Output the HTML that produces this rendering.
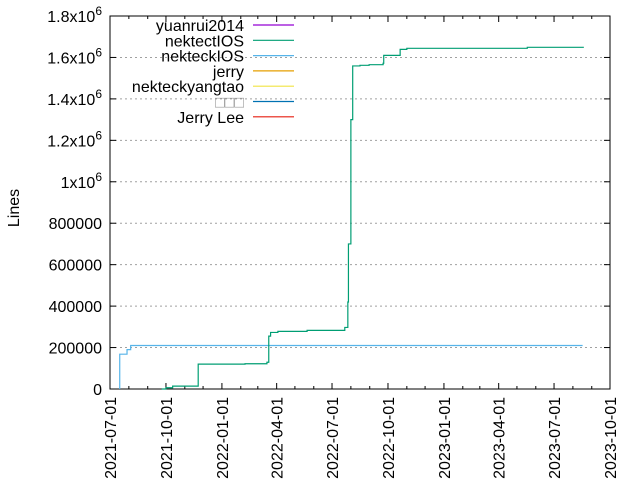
<!DOCTYPE html>
<html><head><meta charset="utf-8">
<style>
html,body{margin:0;padding:0;background:#fff;}
svg{display:block;font-family:"Liberation Sans","Noto Sans CJK SC",sans-serif;}
</style></head>
<body>
<svg id="chart" width="640" height="480" viewBox="0 0 640 480" xmlns="http://www.w3.org/2000/svg"></svg>
<script>
const yTicks = [0,200000,400000,600000,800000,1000000,1200000,1400000,1600000,1800000];
const yTickLabels = ["0","200000","400000","600000","800000","1x10^6","1.2x10^6","1.4x10^6","1.6x10^6","1.8x10^6"];
const xTickLabels = ["2021-07-01","2021-10-01","2022-01-01","2022-04-01","2022-07-01","2022-10-01","2023-01-01","2023-04-01","2023-07-01","2023-10-01"];
const seriesNames = ["yuanrui2014","nektectIOS","nekteckIOS","jerry","nekteckyangtao","\u25a1\u25a1\u25a1","Jerry Lee"];
const seriesColors = ["#9400d3","#009e73","#56b4e9","#e69f00","#f0e442","#0072b2","#e51e10"];
const blueDates = ["2021-07-17","2021-07-29","2021-08-04","2023-08-17"];
const blueValues = [168000,190000,210000,210000];
const greenDates = ["2021-09-24","2021-10-01","2021-10-12","2021-11-23","2022-02-08","2022-03-16","2022-03-19","2022-03-22","2022-04-03","2022-05-21","2022-07-22","2022-07-27","2022-07-28","2022-08-01","2022-08-04","2022-08-16","2022-08-31","2022-09-23","2022-09-24","2022-10-21","2022-11-01","2023-05-18","2023-08-19"];
const greenValues = [0,6000,14000,120000,122000,129000,255000,273000,278000,283000,297000,420000,700000,1300000,1559000,1562000,1565000,1572000,1610000,1639000,1644000,1649000,1649000];

const svg = document.getElementById('chart');
const NS = "http://www.w3.org/2000/svg";
const L=110,R=610,T=16,B=389;
const FS=16;
const t0 = Date.parse("2021-07-01"), t1 = Date.parse("2023-10-01");
function xs(d){return L+(Date.parse(d)-t0)/(t1-t0)*(R-L);}
function ys(v){return B-v/1800000*(B-T);}
function mk(tag,attrs,parent){const e=document.createElementNS(NS,tag);for(const k in attrs)e.setAttribute(k,attrs[k]);(parent||svg).appendChild(e);return e;}

yTicks.forEach((v,i)=>{
  const y=ys(v);
  if(i>0&&i<yTicks.length-1){
    const g=mk('line',{x1:L,x2:R,y1:y,y2:y,stroke:'#a0a0a0','stroke-dasharray':'2,3','stroke-width':1});
    
    
  }
  mk('line',{x1:L,x2:L+6,y1:y,y2:y,stroke:'#000'});
  mk('line',{x1:R,x2:R-6,y1:y,y2:y,stroke:'#000'});
  const t=mk('text',{x:102,y:y+6,'text-anchor':'end','font-size':FS});
  
  
  const lab=yTickLabels[i];
  if(lab.indexOf('^')>=0){
    const p=lab.split('^');
    t.appendChild(document.createTextNode(p[0]));
    const s=mk('tspan',{dy:-7,'font-size':'12'},t);s.textContent=p[1];
  } else t.textContent=lab;
});
for(let m=0;m<=27;m++){
  const d=new Date(Date.UTC(2021,6+m,1));
  const x=L+(d.getTime()-t0)/(t1-t0)*(R-L);
  const len=(m%3===0)?6:3;
  mk('line',{x1:x,x2:x,y1:B,y2:B-len,stroke:'#000'});
  mk('line',{x1:x,x2:x,y1:T,y2:T+len,stroke:'#000'});
}
xTickLabels.forEach(s=>{
  const x=xs(s);
  const t=mk('text',{x:0,y:0,'text-anchor':'end','font-size':FS,transform:`translate(${x+6},397) rotate(-90)`});
  t.textContent=s;
  
  
});
const bd=mk('rect',{x:L,y:T,width:R-L,height:B-T,fill:'none',stroke:'#000'});


const yt=mk('text',{x:0,y:0,'text-anchor':'middle','font-size':FS,transform:'translate(19,208) rotate(-90)'});
yt.textContent='Lines';



function stepPath(dates,vals){
  let d=`M${xs(dates[0])},${B} V${ys(vals[0])}`;
  for(let i=1;i<dates.length;i++){d+=` H${xs(dates[i])} V${ys(vals[i])}`;}
  return d;
}
const pb=mk('path',{d:stepPath(blueDates,blueValues),fill:'none',stroke:seriesColors[2],'stroke-width':1.2});


const pg=mk('path',{d:stepPath(greenDates,greenValues),fill:'none',stroke:seriesColors[1],'stroke-width':1.2});



seriesNames.forEach((n,i)=>{
  const y=25+i*15.3;
  const g=mk('g',{});
  
  
  const t=mk('text',{x:244,y:y+6,'text-anchor':'end','font-size':FS,fill:i===5?'#999':'#000'},g);
  t.textContent=n;
  mk('line',{x1:253,x2:294,y1:y,y2:y,stroke:seriesColors[i],'stroke-width':1.2},g);
});
</script>
</body></html>
